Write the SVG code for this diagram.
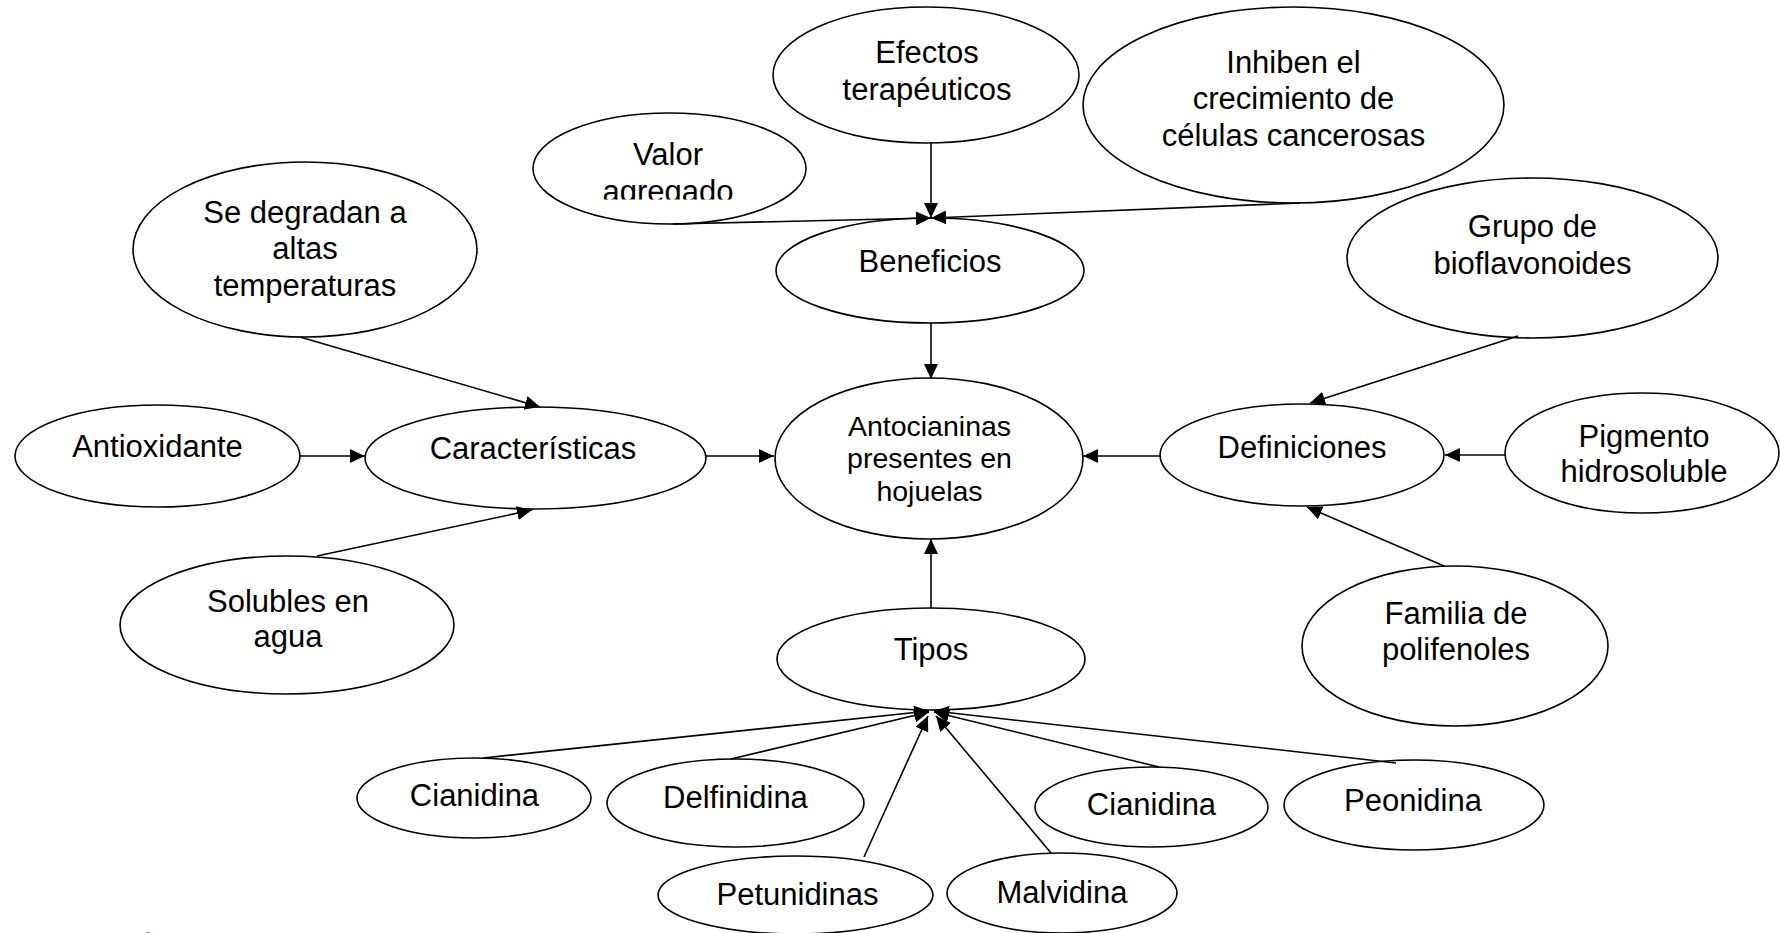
<svg xmlns="http://www.w3.org/2000/svg" width="1780" height="933" viewBox="0 0 1780 933">
<style>
ellipse{fill:#fff;stroke:#000;stroke-width:1.6}
text{font-family:"Liberation Sans",Arial,sans-serif;font-size:31px;fill:#000;text-anchor:middle}
.sm{font-size:28.5px}
#edges line{stroke:#000;stroke-width:1.6;marker-end:url(#ah)}
</style>
<defs>
<marker id="ah" markerUnits="userSpaceOnUse" markerWidth="16" markerHeight="14" refX="15" refY="7" orient="auto">
<path d="M0,0 L15,7 L0,14 z" fill="#000"/>
</marker>
<clipPath id="clipValor"><rect x="520" y="100" width="300" height="99.5"/></clipPath>
</defs>
<rect width="1780" height="933" fill="#fff"/>

<g id="n-efectos"><ellipse cx="926" cy="75" rx="153" ry="68"/><text x="927" y="63">Efectos</text><text x="927" y="100">terapéuticos</text></g>
<g id="n-valor"><ellipse cx="669.5" cy="168.5" rx="136.5" ry="55.5"/><g clip-path="url(#clipValor)"><text x="668" y="165">Valor</text><text x="668" y="202">agregado</text></g></g>
<g id="n-inhiben"><ellipse cx="1293.5" cy="105" rx="210.5" ry="98"/><text x="1293.5" y="73">Inhiben el</text><text x="1293.5" y="109">crecimiento de</text><text x="1293.5" y="146">células cancerosas</text></g>
<g id="n-beneficios"><ellipse cx="930" cy="270.5" rx="154" ry="52.5"/><text x="930" y="272">Beneficios</text></g>
<g id="n-degradan"><ellipse cx="305" cy="249.5" rx="172" ry="87.5"/><text x="305" y="223">Se degradan a</text><text x="305" y="259">altas</text><text x="305" y="296">temperaturas</text></g>
<g id="n-grupo"><ellipse cx="1532.5" cy="258" rx="185.5" ry="80"/><text x="1532.5" y="237">Grupo de</text><text x="1532.5" y="274">bioflavonoides</text></g>
<g id="n-antioxidante"><ellipse cx="157.5" cy="456" rx="142.5" ry="51"/><text x="157.5" y="457">Antioxidante</text></g>
<g id="n-caracteristicas"><ellipse cx="535.5" cy="458" rx="170.5" ry="51"/><text x="533" y="459">Características</text></g>
<g id="n-antocianinas"><ellipse cx="929" cy="458.5" rx="154" ry="80.5"/><text class="sm" x="929.5" y="436">Antocianinas</text><text class="sm" x="929.5" y="468">presentes en</text><text class="sm" x="929.5" y="501">hojuelas</text></g>
<g id="n-definiciones"><ellipse cx="1302" cy="455" rx="142" ry="51"/><text x="1302" y="458">Definiciones</text></g>
<g id="n-pigmento"><ellipse cx="1642" cy="453" rx="137" ry="60"/><text x="1644" y="447">Pigmento</text><text x="1644" y="482">hidrosoluble</text></g>
<g id="n-solubles"><ellipse cx="287" cy="625" rx="167" ry="69"/><text x="288" y="612">Solubles en</text><text x="288" y="647">agua</text></g>
<g id="n-familia"><ellipse cx="1455" cy="646" rx="153" ry="80"/><text x="1456" y="624">Familia de</text><text x="1456" y="660">polifenoles</text></g>
<g id="n-tipos"><ellipse cx="931" cy="659" rx="154" ry="51"/><text x="931" y="660">Tipos</text></g>
<g id="n-cianidina1"><ellipse cx="474" cy="798" rx="117" ry="40"/><text x="474.5" y="806">Cianidina</text></g>
<g id="n-delfinidina"><ellipse cx="735.5" cy="803" rx="128.5" ry="44"/><text x="735.5" y="808">Delfinidina</text></g>
<g id="n-cianidina2"><ellipse cx="1151.5" cy="807" rx="116.5" ry="40"/><text x="1151.5" y="815">Cianidina</text></g>
<g id="n-peonidina"><ellipse cx="1414" cy="805" rx="130" ry="45"/><text x="1413" y="811">Peonidina</text></g>
<g id="n-petunidinas"><ellipse cx="795.5" cy="895" rx="137.5" ry="39"/><text x="797.5" y="905">Petunidinas</text></g>
<g id="n-malvidina"><ellipse cx="1062" cy="893" rx="115" ry="40"/><text x="1062" y="903">Malvidina</text></g>

<g id="edges">
<line x1="931" y1="143" x2="931" y2="218"/>
<line x1="673" y1="224" x2="931" y2="218"/>
<line x1="1300" y1="203" x2="931" y2="218"/>
<line x1="931" y1="323" x2="931" y2="379"/>
<line x1="300" y1="337" x2="540" y2="407"/>
<line x1="300" y1="456" x2="365" y2="456"/>
<line x1="317" y1="556" x2="532" y2="510"/>
<line x1="706" y1="456" x2="774" y2="456"/>
<line x1="1518" y1="336" x2="1310" y2="403"/>
<line x1="1505" y1="455" x2="1445" y2="455"/>
<line x1="1444" y1="566" x2="1307" y2="507"/>
<line x1="1160" y1="456" x2="1083" y2="456"/>
<line x1="931" y1="608" x2="931" y2="539"/>
<line x1="483" y1="758" x2="929" y2="711"/>
<line x1="731" y1="759" x2="929" y2="712"/>
<line x1="864" y1="857" x2="928" y2="716"/>
<line x1="1051" y1="853" x2="936" y2="716"/>
<line x1="1159" y1="767" x2="934" y2="712"/>
<line x1="1396" y1="763" x2="934" y2="711"/>
</g>
<text x="145" y="960">Á</text>
</svg>
